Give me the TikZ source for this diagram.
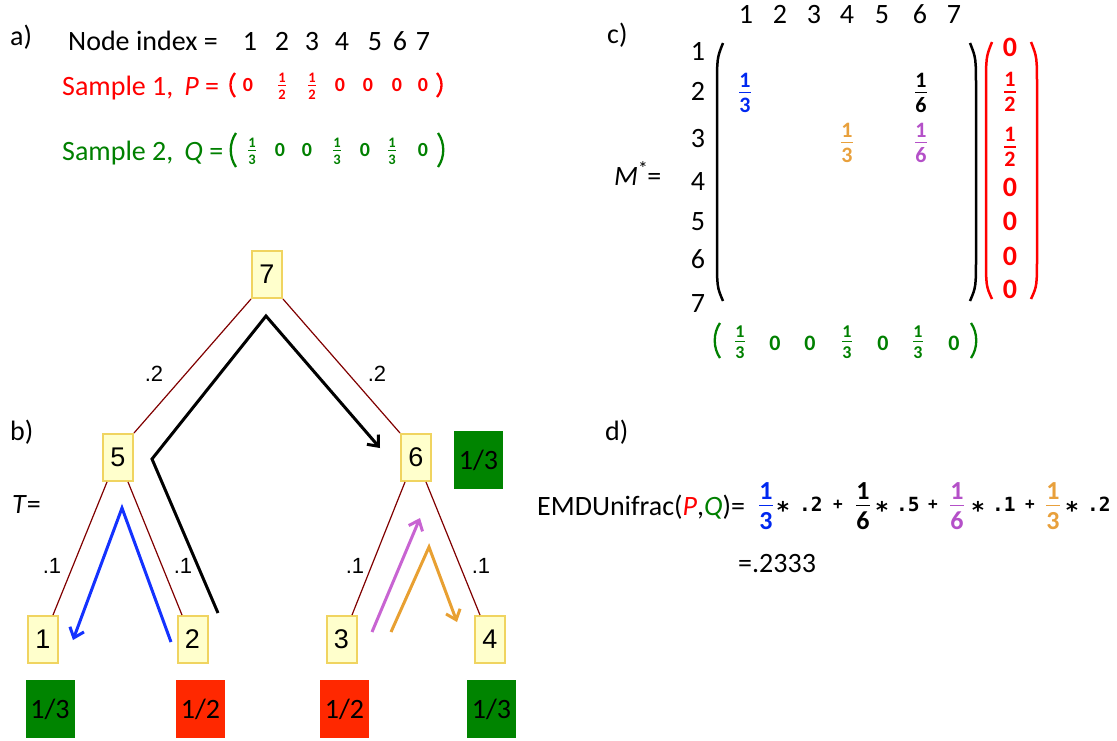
\documentclass[tikz,border=0pt]{standalone}
\usepackage{fontspec}
\usepackage{amsmath}
\setmainfont{Carlito}
\newfontfamily\arialf{Liberation Sans}
\newfontfamily\monof{DejaVu Sans Mono}
\usetikzlibrary{arrows.meta}
\definecolor{pred}{RGB}{255,0,0}
\definecolor{qgreen}{RGB}{0,128,0}
\definecolor{boxgreen}{RGB}{0,132,0}
\definecolor{boxred}{RGB}{255,40,0}
\definecolor{nfill}{RGB}{255,255,204}
\definecolor{nborder}{RGB}{240,212,96}
\definecolor{edgec}{RGB}{128,0,0}
\definecolor{ablue}{RGB}{20,50,255}
\definecolor{apurple}{RGB}{200,100,210}
\definecolor{aorange}{RGB}{232,160,50}
\definecolor{fblue}{RGB}{0,40,240}
\definecolor{fpurple}{RGB}{180,80,200}
\definecolor{forange}{RGB}{232,160,60}
\newcommand\fr[3][1.5pt]{$\genfrac{}{}{#1}{1}{\hbox{\vrule width0pt depth 0.12em #2}}{\hbox{\vrule width0pt height 0.8em #3}}$}
\begin{document}
\begin{tikzpicture}[x=1pt,y=-1pt,
  lbl/.style={font=\fontsize{28}{32}\selectfont, inner sep=0pt},
  vz/.style={font=\bfseries\fontsize{20}{22}\selectfont, inner sep=0pt},
  vf/.style={font=\bfseries\fontsize{14.5}{16}\selectfont, inner sep=0pt},
  mf/.style={font=\bfseries\fontsize{22}{24}\selectfont, inner sep=0pt},
  rz/.style={font=\bfseries\fontsize{28}{30}\selectfont, inner sep=0pt},
  gz/.style={font=\bfseries\fontsize{22}{24}\selectfont, inner sep=0pt},
  gf/.style={font=\bfseries\fontsize{18}{20}\selectfont, inner sep=0pt},
  ef/.style={font=\bfseries\fontsize{26}{28}\selectfont, inner sep=0pt},
  monot/.style={font=\monof\bfseries\fontsize{19.5}{22}\selectfont, inner sep=0pt, anchor=base west},
  stt/.style={font=\monof\bfseries\fontsize{23}{25}\selectfont, inner sep=0pt, anchor=base},
  plt/.style={font=\monof\bfseries\fontsize{16}{18}\selectfont, inner sep=0pt},
  tn/.style={draw=nborder, fill=nfill, line width=2pt, minimum width=30pt, minimum height=47pt, inner sep=0pt, font=\arialf\fontsize{27}{29}\selectfont},
  cb/.style={minimum width=49pt, minimum height=58pt, inner sep=0pt, font=\fontsize{28}{30}\selectfont},
  tedge/.style={draw=edgec, line width=1.2pt},
  wl/.style={font=\arialf\fontsize{22}{24}\selectfont, inner sep=0pt, anchor=base},
  flow/.style={line width=3pt, -{Straight Barb[length=9pt,width=15pt]}},
  parw/.style={line width=2.3pt},
  bigpar/.style={line width=2.5pt}
]
\useasboundingbox (0,0) rectangle (1117,740);

% ---------- a)
\node[lbl, anchor=base west] (la) at (10,45) {a)};
\node[lbl, anchor=base west] (ni) at (68,50) {Node index =};
\foreach \x [count=\i] in {250,282,312,342,375,400,423}
  \node[lbl, anchor=base] (nd\i) at (\x,50) {\i};

\node[lbl, anchor=base west, text=pred] (s1) at (62,95) {Sample 1,\, \textit{P} =};
\draw[pred, parw] (235,73) .. controls (229,80) and (229,90) .. (235,97);
\draw[pred, parw] (437,73) .. controls (443,80) and (443,90) .. (437,97);
\foreach \x [count=\i] in {248,340,368,397,423}
  \node[vz, text=pred] (pz\i) at (\x,85) {0};
\node[vf, text=pred] (pf1) at (282,86) {\fr[1.2pt]{1}{2}};
\node[vf, text=pred] (pf2) at (312,86) {\fr[1.2pt]{1}{2}};

\node[lbl, anchor=base west, text=qgreen] (s2) at (62,160) {Sample 2,\, \textit{Q} =};
\draw[qgreen, parw] (236,133) .. controls (229,143) and (229,157) .. (236,167);
\draw[qgreen, parw] (438,133) .. controls (445,143) and (445,157) .. (438,167);
\foreach \x [count=\i] in {280,307,365,423}
  \node[vz, text=qgreen] (qz\i) at (\x,150) {0};
\foreach \x [count=\i] in {252,337,392}
  \node[vf, text=qgreen] (qf\i) at (\x,151) {\fr[1.2pt]{1}{3}};

% ---------- b)
\node[lbl, anchor=base west] (lb) at (10,440) {b)};
\node[lbl, anchor=base west] (tq) at (12,513) {\textit{T}=};

\node[tn] (n7) at (267,274.5) {7};
\node[tn] (n5) at (118,457.5) {5};
\node[tn] (n6) at (416,457.5) {6};
\node[tn] (n1) at (43,639.5) {1};
\node[tn] (n2) at (192.5,639.5) {2};
\node[tn] (n3) at (341.5,639.5) {3};
\node[tn] (n4) at (490,639.5) {4};

\draw[tedge] (n7.south west) -- (n5.north east);
\draw[tedge] (n7.south east) -- (n6.north west);
\draw[tedge] ([xshift=-11pt]n5.south) -- ([xshift=10pt]n1.north);
\draw[tedge] ([xshift=10pt]n5.south) -- ([xshift=-10.5pt]n2.north);
\draw[tedge] ([xshift=-11pt]n6.south) -- ([xshift=10.5pt]n3.north);
\draw[tedge] ([xshift=10pt]n6.south) -- ([xshift=-10pt]n4.north);

\node[wl] (w75) at (154,381) {.2};
\node[wl] (w76) at (377,381) {.2};
\node[wl] (w51) at (52,573) {.1};
\node[wl] (w52) at (183,573) {.1};
\node[wl] (w63) at (355,573) {.1};
\node[wl] (w64) at (481,573) {.1};

\node[cb, fill=boxgreen] (g6) at (478.5,460) {1/3};
\node[cb, fill=boxgreen] (g1) at (50,709) {1/3};
\node[cb, fill=boxred] (r2) at (200.5,709) {1/2};
\node[cb, fill=boxred] (r3) at (344.5,709) {1/2};
\node[cb, fill=boxgreen] (g4) at (491.5,709) {1/3};

\coordinate (bk1) at (218,613);
\coordinate (bk2) at (152,459);
\coordinate (bk3) at (266,316);
\coordinate (bk4) at (380,448);
\draw[flow, black] (bk1) -- (bk2) -- (bk3) -- (bk4);
\coordinate (bl1) at (171,642);
\coordinate (bl2) at (122,508);
\coordinate (bl3) at (73,640);
\draw[flow, ablue] (bl1) -- (bl2) -- (bl3);
\coordinate (pu1) at (372,632);
\coordinate (pu2) at (420,518);
\draw[flow, apurple] (pu1) -- (pu2);
\coordinate (or1) at (391,632);
\coordinate (or2) at (429,547);
\coordinate (or3) at (457,622);
\draw[flow, aorange] (or1) -- (or2) -- (or3);

% ---------- c)
\node[lbl, anchor=base west] (lc) at (607,43) {c)};
\node[lbl, anchor=base west] (mst) at (614,185) {\textit{M}\textsuperscript{*}\kern-1pt=};
\foreach \x [count=\i] in {746,780,814,847,882,920,954}
  \node[lbl, anchor=base] (ch\i) at (\x,23) {\i};
\foreach \y [count=\i] in {60,100,147,190,230,268,312}
  \node[lbl, anchor=base] (rh\i) at (698,\y) {\i};
\draw[black, bigpar] (723,43) .. controls (717,58) .. (717,90) -- (717,255) .. controls (717,287) .. (723,301);
\draw[black, bigpar] (970,43) .. controls (976,58) .. (976,90) -- (976,255) .. controls (976,287) .. (970,301);
\draw[pred, bigpar] (992,42) .. controls (986,57) .. (986,89) -- (986,254) .. controls (986,286) .. (992,299);
\draw[pred, bigpar] (1031,42) .. controls (1037,57) .. (1037,89) -- (1037,254) .. controls (1037,286) .. (1031,299);

\node[mf, text=fblue] (m21) at (745,93) {\fr[1.8pt]{1}{3}};
\node[mf, text=black] (m26) at (921,93) {\fr[1.8pt]{1}{6}};
\node[mf, text=forange] (m34) at (847,143) {\fr[1.8pt]{1}{3}};
\node[mf, text=fpurple] (m36) at (921,143) {\fr[1.8pt]{1}{6}};

\node[rz, text=pred] (rc1) at (1010,47) {0};
\node[mf, text=pred] (rc2) at (1010,92) {\fr[1.8pt]{1}{2}};
\node[mf, text=pred] (rc3) at (1010,147) {\fr[1.8pt]{1}{2}};
\foreach \y [count=\i from 4] in {187,221,256,289}
  \node[rz, text=pred] (rc\i) at (1010,\y) {0};

\draw[qgreen, parw] (720,323) .. controls (713,333) and (713,348) .. (720,358);
\draw[qgreen, parw] (971,323) .. controls (978,333) and (978,348) .. (971,358);
\foreach \x [count=\i] in {775,810,883,954}
  \node[gz, text=qgreen] (gz\i) at (\x,343) {0};
\foreach \x [count=\i] in {740,847,918}
  \node[gf, text=qgreen] (gf\i) at (\x,342) {\fr[1.5pt]{1}{3}};

% ---------- d)
\node[lbl, anchor=base west] (ld) at (605,440) {d)};
\node[lbl, anchor=base west] (emd) at (537,515) {EMDUnifrac(\textcolor{pred}{\textit{P}},\textcolor{qgreen}{\textit{Q}})=};
\node[ef, text=fblue] (e1) at (766,506) {\fr[1.8pt]{1}{3}};
\node[ef, text=black] (e2) at (863,506) {\fr[1.8pt]{1}{6}};
\node[ef, text=fpurple] (e3) at (957,506) {\fr[1.8pt]{1}{6}};
\node[ef, text=forange] (e4) at (1053,506) {\fr[1.8pt]{1}{3}};
\foreach \x [count=\i] in {783,882,978,1072}
  \node[stt] (st\i) at (\x,518) {*};
\node[monot] (v1) at (799,511) {.2};
\node[monot] (v2) at (896,511) {.5};
\node[monot] (v3) at (992,511) {.1};
\node[monot] (v4) at (1087,511) {.2};
\foreach \x [count=\i] in {838,933,1030}
  \node[plt] (pl\i) at (\x,505) {+};
\node[lbl, anchor=base west] (res) at (738,572) {=.2333};
\end{tikzpicture}
\end{document}
